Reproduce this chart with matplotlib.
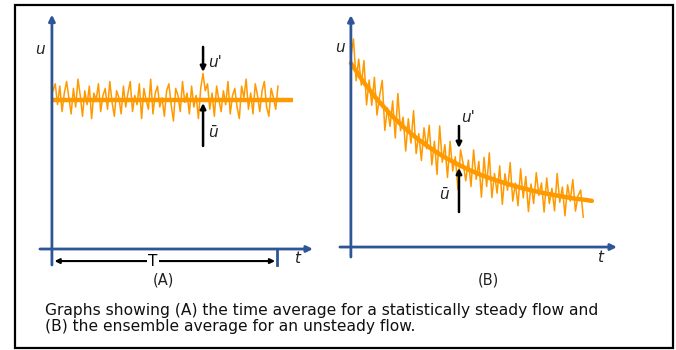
import numpy as np
import matplotlib.pyplot as plt
from matplotlib.patches import Rectangle

# %% data
# (A) statistically steady flow: constant mean plus fluctuations u'
a_mean_level = 6.42
a_mean_t = [0.04, 9.23]
a_dev = [0.4, 0.7, -0.2, 0.6, -0.5, 0.3, 0.8, 0.1, -0.6, 0.5,
         -0.3, 0.9, 0.2, -0.7, 0.4, -0.2, 0.6, -0.8, 0.3, 0.0,
         0.7, -0.5, 0.2, 0.5, -0.4, 0.8, -0.1, -0.7, 0.4, 0.1,
         -0.6, 0.6, -0.3, 0.3, 0.8, -0.5, 0.2, -0.2, 0.7, -0.8,
         0.5, 0.0, -0.4, 0.9, -0.6, 0.3, 0.6, -0.3, 0.1, -0.7,
         0.4, 0.7, -0.2, -0.9, 0.5, 0.2, -0.5, 0.8, -0.1, 0.3,
         -0.6, 0.6, -0.3, 0.2, -0.8, 0.5, 1.15, 0.4, 0.7, -0.4,
         0.3, -0.7, 0.6, 0.0, -0.5, 0.4, -0.2, 0.8, -0.6, 0.2,
         0.5, -0.3, -0.8, 0.6, 0.1, 0.9, -0.4, 0.3, -0.6, 0.7,
         0.2, -0.5, 0.4, 0.8, -0.3, -0.7, 0.5, 0.1, -0.4, 0.6]
a_t_start, a_t_end = 0.04, 8.66

# (B) unsteady flow: decaying ensemble average plus fluctuations
b_mean_t = [0.0, 0.5, 1.0, 1.5, 2.0, 2.5, 3.0, 3.5, 4.0, 4.5,
            5.0, 5.5, 6.0, 6.5, 7.0, 7.5, 8.0, 8.5, 9.0, 9.23]
b_mean_u = [7.93, 7.09, 6.37, 5.74, 5.19, 4.71, 4.30, 3.93, 3.62, 3.34,
            3.10, 2.90, 2.72, 2.56, 2.42, 2.30, 2.20, 2.10, 2.03, 1.99]
b_noise_u = [8.20, 8.97, 7.17, 8.10, 6.98, 8.04, 6.13, 7.20, 6.11, 7.32,
             5.69, 6.51, 7.19, 5.03, 6.00, 5.20, 6.30, 4.70, 6.62, 5.02,
             5.60, 4.14, 5.53, 4.48, 5.88, 4.03, 4.89, 3.73, 5.14, 4.24,
             5.25, 3.54, 4.56, 3.13, 5.22, 3.66, 4.41, 3.00, 4.56, 3.28,
             3.89, 2.48, 4.19, 3.59, 2.86, 3.75, 2.61, 4.19, 2.92, 3.69,
             2.15, 3.87, 2.61, 4.06, 2.13, 3.17, 2.32, 3.50, 1.84, 3.16,
             2.45, 3.64, 1.98, 2.76, 1.78, 3.37, 2.12, 3.04, 1.53, 2.72,
             1.88, 3.21, 2.23, 2.76, 1.51, 2.98, 1.87, 2.53, 1.56, 3.17,
             1.93, 2.59, 1.35, 2.68, 1.98, 2.91, 1.55, 2.21, 2.46, 1.29]
b_t_start, b_t_end = 0.0, 8.9

caption = ("Graphs showing (A) the time average for a statistically steady flow and\n"
           "(B) the ensemble average for an unsteady flow.")

# %% styles
ORANGE = "#FF9900"
BLUE = "#2E5597"
W, H = 676, 350

plt.rcParams["mathtext.fontset"] = "dejavusans"

fig = plt.figure(figsize=(W / 100, H / 100), dpi=100)


def px_axes(x0, y0, x1, y1):
    ax = fig.add_axes([x0 / W, 1 - y1 / H, (x1 - x0) / W, (y1 - y0) / H])
    ax.set_axis_off()
    return ax


def axis_arrow(ax, start, end):
    ax.annotate("", xy=end, xytext=start,
                arrowprops=dict(arrowstyle="-|>", color=BLUE, lw=2,
                                mutation_scale=9, shrinkA=0, shrinkB=0))


def black_arrow(ax, start, end):
    ax.annotate("", xy=end, xytext=start,
                arrowprops=dict(arrowstyle="-|>", color="black", lw=1.8,
                                mutation_scale=8, shrinkA=0, shrinkB=0))


lab = dict(fontsize=11, style="italic", color="#222222", ha="center", va="center")

# %% panel A
axA = px_axes(30, 10, 320, 270)
axA.set_xlim(-0.84, 10.27)
axA.set_ylim(-0.905, 10.30)

a_t = np.linspace(a_t_start, a_t_end, len(a_dev))
axA.plot(a_t, a_mean_level + np.array(a_dev), color=ORANGE, lw=1.1)
axA.plot(a_mean_t, [a_mean_level] * 2, color=ORANGE, lw=3.2, solid_capstyle="butt")

axis_arrow(axA, (0, -0.69), (0, 10.1))
axis_arrow(axA, (-0.46, 0), (10.0, 0))
axA.plot([8.62, 8.62], [0, -0.69], color=BLUE, lw=2)

axA.annotate("", xy=(0.1, -0.52), xytext=(8.55, -0.52),
             arrowprops=dict(arrowstyle="<|-|>", color="black", lw=1.5,
                             mutation_scale=7, shrinkA=0, shrinkB=0))
axA.text(3.87, -0.52, "T", fontsize=11, ha="center", va="center",
         bbox=dict(facecolor="white", edgecolor="none", pad=1))

black_arrow(axA, (5.79, 8.71), (5.79, 7.63))
black_arrow(axA, (5.79, 4.44), (5.79, 6.29))
axA.text(-0.46, 8.58, "u", **lab)
axA.text(6.25, 8.02, "u'", **lab)
axA.text(6.2, 5.0, r"$\bar{u}$", fontsize=11, color="#222222", ha="center", va="center")
axA.text(9.39, -0.39, "t", **lab)

# %% panel B
axB = px_axes(330, 10, 630, 270)
axB.set_xlim(-0.80, 10.69)
axB.set_ylim(-0.99, 10.22)

b_t = np.linspace(b_t_start, b_t_end, len(b_noise_u))
axB.plot(b_t, b_noise_u, color=ORANGE, lw=1.1)
axB.plot(b_mean_t, b_mean_u, color=ORANGE, lw=3.2, solid_capstyle="round")

axis_arrow(axB, (0, -0.43), (0, 10.0))
axis_arrow(axB, (-0.42, 0), (10.19, 0))

black_arrow(axB, (4.14, 5.22), (4.14, 4.27))
black_arrow(axB, (4.14, 1.51), (4.14, 3.41))
axB.text(-0.42, 8.62, "u", **lab)
axB.text(4.49, 5.6, "u'", **lab)
axB.text(3.6, 2.24, r"$\bar{u}$", fontsize=11, color="#222222", ha="center", va="center")
axB.text(9.54, -0.47, "t", **lab)

# %% captions and frame
fig.text(163 / W, 1 - 280 / H, "(A)", fontsize=10.5, ha="center", va="center", color="#222222")
fig.text(488 / W, 1 - 280 / H, "(B)", fontsize=10.5, ha="center", va="center", color="#222222")
fig.text(45 / W, 1 - 303 / H, caption, fontsize=11.2, ha="left", va="top",
         color="#111111", linespacing=1.12)

fig.patches.append(Rectangle((15 / W, 1 - 348 / H), 658 / W, 343 / H,
                             transform=fig.transFigure, fill=False,
                             edgecolor="black", lw=1.6))

fig.savefig("out.png", dpi=100)
